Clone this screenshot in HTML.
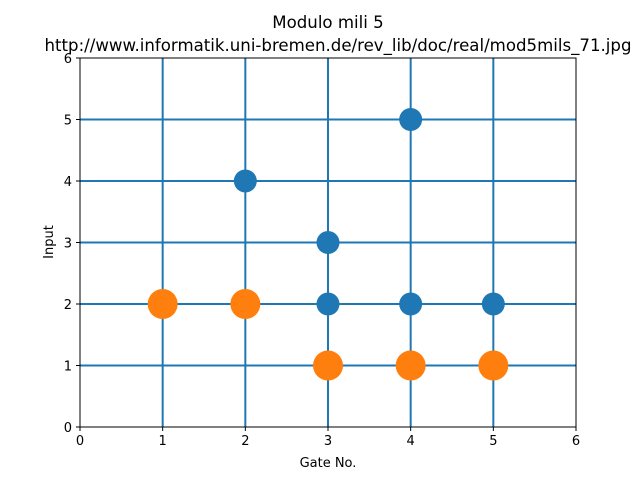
<!DOCTYPE html>
<html><head><meta charset="utf-8"><style>
body{margin:0;background:#fff;}
svg text{font-family:"DejaVu Sans","Liberation Sans",sans-serif;fill:#000;}
</style></head><body>
<svg id="chart" width="640" height="480" viewBox="0 0 640 480">
<rect width="640" height="480" fill="#fff"/>
<text x="328" y="28" font-size="16.6" text-anchor="middle">Modulo mili 5</text>
<text x="338" y="51" font-size="16.6" text-anchor="middle">http://www.informatik.uni-bremen.de/rev_lib/doc/real/mod5mils_71.jpg</text>
<g id="grid"></g>
<g id="marks"></g>
<rect x="80" y="58" width="496" height="369" fill="none" stroke="#000" stroke-width="1"/>
<g id="ticks"></g>
<text x="328" y="467" font-size="13" text-anchor="middle">Gate No.</text>
<text x="53" y="242" font-size="13" text-anchor="middle" transform="rotate(-90 53 242)">Input</text>
</svg>
<script>
const xTicks=[0,1,2,3,4,5,6];
const yTicks=[0,1,2,3,4,5,6];
const gridX=[1,2,3,4,5];
const gridY=[1,2,3,4,5];
const blueX=[2,4,3,3,4,5];
const blueY=[4,5,3,2,2,2];
const orangeX=[1,2,3,4,5];
const orangeY=[2,2,1,1,1];
const NS="http://www.w3.org/2000/svg";
const X0=80,X1=576,Y0=427,Y1=58;
function sx(v){return X0+(X1-X0)*v/6;}
function sy(v){return Y0-(Y0-Y1)*v/6;}
function mk(t,a,p){const e=document.createElementNS(NS,t);for(const k in a)e.setAttribute(k,a[k]);p.appendChild(e);return e;}
const grid=document.getElementById('grid'),marks=document.getElementById('marks'),ticks=document.getElementById('ticks');
gridX.forEach(v=>{const l=mk('line',{x1:sx(v),x2:sx(v),y1:Y1,y2:Y0,stroke:'#1f77b4','stroke-width':2},grid);

});
gridY.forEach(v=>{const l=mk('line',{x1:X0,x2:X1,y1:sy(v),y2:sy(v),stroke:'#1f77b4','stroke-width':2},grid);

});
blueX.forEach((v,i)=>{const c=mk('circle',{cx:sx(v),cy:sy(blueY[i]),r:11.5,fill:'#1f77b4'},marks);

});
orangeX.forEach((v,i)=>{const c=mk('circle',{cx:sx(v),cy:sy(orangeY[i]),r:15,fill:'#ff7f0e'},marks);

});
xTicks.forEach(v=>{mk('line',{x1:sx(v),x2:sx(v),y1:Y0,y2:Y0+4,stroke:'#000'},ticks);
const t=mk('text',{x:sx(v),y:Y0+18,'font-size':13,'text-anchor':'middle'},ticks);t.textContent=v;

});
yTicks.forEach(v=>{mk('line',{x1:X0-4,x2:X0,y1:sy(v),y2:sy(v),stroke:'#000'},ticks);
const t=mk('text',{x:X0-8,y:sy(v)+5,'font-size':13,'text-anchor':'end'},ticks);t.textContent=v;

});
</script>
</body></html>
